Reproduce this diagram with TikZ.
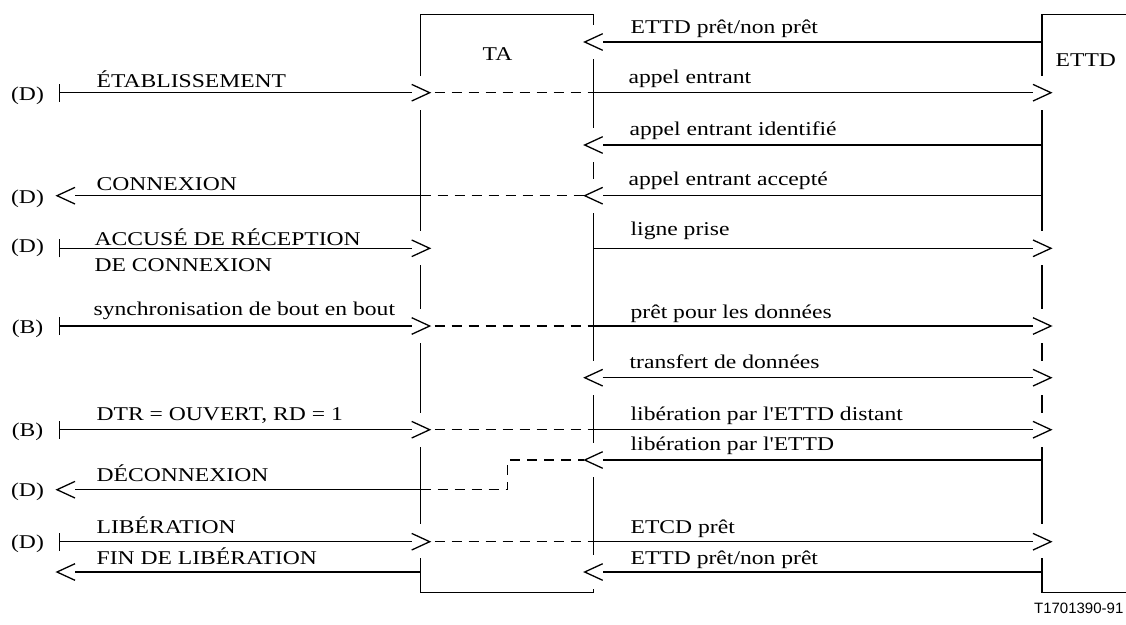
\documentclass[tikz,border=0pt]{standalone}
\usepackage{fontspec}
\setmainfont{Liberation Serif}[FakeStretch=1.21, Ligatures=TeXOff]
\newfontfamily\codefont{Liberation Sans}
\usetikzlibrary{arrows.meta}

\pgfdeclarearrow{
  name = Chev,
  parameters = {},
  setup code = {
    \pgfarrowssettipend{0pt}
    \pgfarrowssetlineend{-9pt}
    \pgfarrowssetbackend{-9pt}
    \pgfarrowshullpoint{9pt}{0pt}
    \pgfarrowshullpoint{-9pt}{8.3pt}
    \pgfarrowshullpoint{-9pt}{-8.3pt}
  },
  drawing code = {
    \pgfpathmoveto{\pgfqpoint{-9pt}{8.3pt}}
    \pgfpathlineto{\pgfqpoint{9pt}{0pt}}
    \pgfpathlineto{\pgfqpoint{-9pt}{-8.3pt}}
    \pgfusepathqstroke
  }
}

\newcommand\lblfont{\fontsize{19.5}{23}\selectfont}

\begin{document}
\begin{tikzpicture}[x=1pt,y=-1pt,
  line width=1.3pt,
  lbl/.style={inner sep=0pt, anchor=base west, font=\lblfont},
  lblc/.style={inner sep=0pt, anchor=base, font=\lblfont},
  fwd/.style={-Chev},
  both/.style={Chev-Chev},
  barfwd/.style={{Bar[width=18pt]}-Chev},
  dashconn/.style={dash pattern=on 10pt off 7pt},
  life/.style={line cap=butt}]
\useasboundingbox (0,0) rectangle (1126,624);

% row coordinates on the lifelines
\foreach \n/\y in {1/42, 2/92.7, 3/145, 4/195.7, 5/248.3, 6/326, 7/377.7,
                   8/429.7, 9/460, 10/489.7, 11/541.7, 12/572} {
  \coordinate (S\n) at (59,\y);
  \coordinate (H\n) at (66,\y);
  \coordinate (A\n) at (420.7,\y);
  \coordinate (B\n) at (593.7,\y);
  \coordinate (E\n) at (1042,\y);
}
\coordinate (J) at (507.7,460);

% TA box (with gaps at arrowheads)
\draw[life] (420.7,76) -- (420.7,14.7) -- (593.7,14.7) -- (593.7,25);
\draw[life] (420.7,110) -- (420.7,231);
\draw[life] (420.7,265) -- (420.7,309);
\draw[life] (420.7,343) -- (420.7,413);
\draw[life] (420.7,447) -- (420.7,524);
\draw[life] (420.7,558) -- (420.7,592.3) -- (593.7,592.3) -- (593.7,589);
\draw[life] (593.7,59) -- (593.7,128);
\draw[life] (593.7,162) -- (593.7,179);
\draw[life] (593.7,213) -- (593.7,361);
\draw[life] (593.7,395) -- (593.7,443);
\draw[life] (593.7,477) -- (593.7,555);

% ETTD box
\draw[life] (1126,14.7) -- (1042,14.7) -- (1042,76);
\draw[life] (1042,110) -- (1042,231);
\draw[life] (1042,265) -- (1042,309);
\draw[life] (1042,343) -- (1042,361);
\draw[life] (1042,395) -- (1042,413);
\draw[life] (1042,447) -- (1042,524);
\draw[life] (1042,558) -- (1042,592.3) -- (1126,592.3);

\node[lblc] (ta) at (497.5,60) {TA};
\node[lbl] (ettd) at (1055,66.7) {ETTD};

% right-side messages
\draw[fwd] (E1) -- (B1);
\draw[fwd] (B2) -- (E2);
\draw[fwd] (E3) -- (B3);
\draw[fwd] (E4) -- (B4);
\draw[fwd] (B5) -- (E5);
\draw[fwd] (B6) -- (E6);
\draw[both] (B7) -- (E7);
\draw[fwd] (B8) -- (E8);
\draw[fwd] (E9) -- (B9);
\draw[fwd] (B11) -- (E11);
\draw[fwd] (E12) -- (B12);

\node[lbl] (r1) at (630,33.3) {ETTD prêt/non prêt};
\node[lbl] (r2) at (628,83.3) {appel entrant};
\node[lbl] (r3) at (629,135) {appel entrant identifié};
\node[lbl] (r4) at (628,185) {appel entrant accepté};
\node[lbl] (r5) at (630,235) {ligne prise};
\node[lbl] (r6) at (630,318.3) {prêt pour les données};
\node[lbl] (r7) at (629,368.3) {transfert de données};
\node[lbl] (r8) at (630,420.7) {libération par l'ETTD distant};
\node[lbl] (r9) at (630,450) {libération par l'ETTD};
\node[lbl] (r10) at (630,533.3) {ETCD prêt};
\node[lbl] (r11) at (630,564) {ETTD prêt/non prêt};

% left-side messages
\draw[barfwd] (S2) -- (A2);
\draw[fwd] (A4) -- (H4);
\draw[barfwd] (S5) -- (A5);
\draw[barfwd] (S6) -- (A6);
\draw[barfwd] (S8) -- (A8);
\draw[fwd] (A10) -- (H10);
\draw[barfwd] (S11) -- (A11);
\draw[fwd] (A12) -- (H12);

\node[lbl] (l1) at (96,87.3) {ÉTABLISSEMENT};
\node[lbl] (l2) at (96,190) {CONNEXION};
\node[lbl] (l3a) at (94,245) {ACCUSÉ DE RÉCEPTION};
\node[lbl] (l3b) at (94,271.7) {DE CONNEXION};
\node[lbl] (l4) at (93,315) {synchronisation de bout en bout};
\node[lbl] (l5) at (96,420.7) {DTR = OUVERT, RD = 1};
\node[lbl] (l6) at (96,481.7) {DÉCONNEXION};
\node[lbl] (l7) at (96,533.3) {LIBÉRATION};
\node[lbl] (l8) at (96,564.3) {FIN DE LIBÉRATION};

\node[lblc] (p1) at (27.5,100.5) {(D)};
\node[lblc] (p2) at (27.5,203.5) {(D)};
\node[lblc] (p3) at (27.5,252) {(D)};
\node[lblc] (p4) at (27.5,333) {(B)};
\node[lblc] (p5) at (27.5,436) {(B)};
\node[lblc] (p6) at (27.5,496.7) {(D)};
\node[lblc] (p7) at (27.5,548.3) {(D)};

% dashed links through TA
\draw[dashconn] ([xshift=14pt]A2) -- (B2);
\draw[dashconn] (A4) -- ([xshift=-10pt]B4);
\draw[dashconn] ([xshift=14pt]A6) -- (B6);
\draw[dashconn] ([xshift=14pt]A8) -- (B8);
\draw[dashconn] (A10) -| (J) -- ([xshift=-10pt]B9);
\draw[dashconn] ([xshift=14pt]A11) -- (B11);

\node[inner sep=0pt, anchor=base east, font=\codefont\fontsize{15}{18}\selectfont] (code) at (1124,613) {T1701390-91};
\end{tikzpicture}
\end{document}
